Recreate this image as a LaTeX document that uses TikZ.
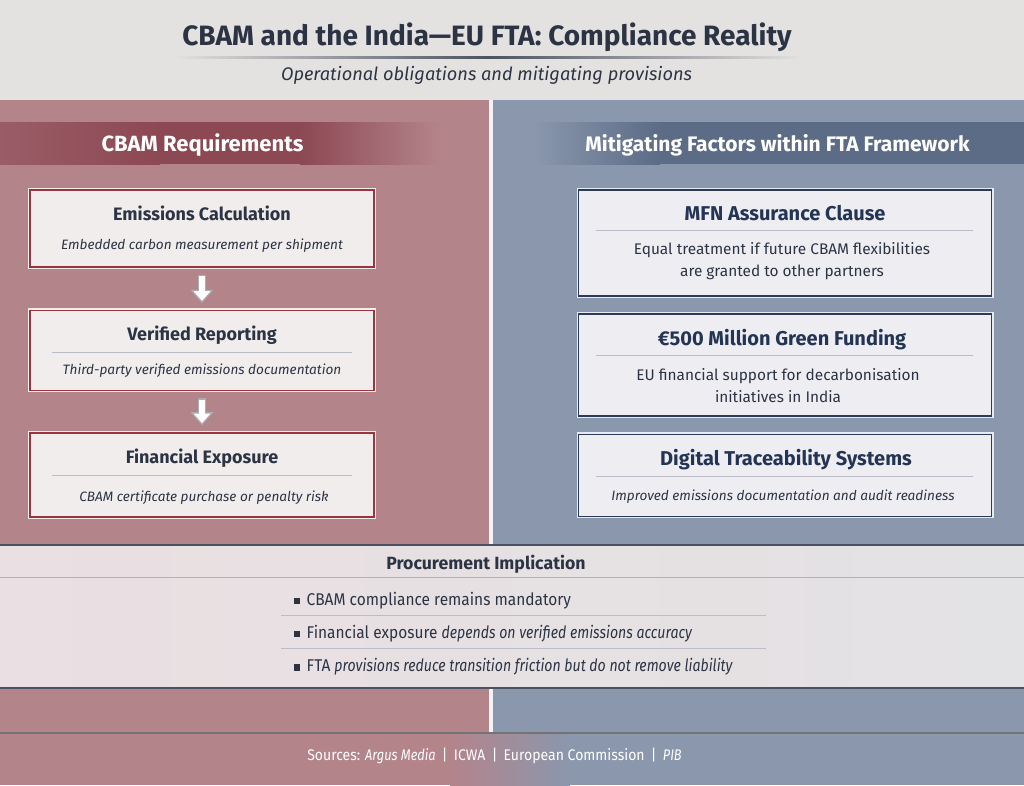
\documentclass[tikz,border=0pt]{standalone}
\usepackage{fontspec}
\setmainfont{Fira Sans}
\newfontfamily\narrowsans[FakeStretch=0.91,ItalicFeatures={FakeStretch=0.83}]{Fira Sans}
\usetikzlibrary{arrows.meta,positioning}
\definecolor{topgray}{HTML}{E4E2E1}
\definecolor{inkdark}{HTML}{2C3444}
\definecolor{panelred}{HTML}{B4848B}
\definecolor{panelblue}{HTML}{8A97AD}
\definecolor{bandred}{HTML}{8C4853}
\definecolor{bandblue}{HTML}{5C6B86}
\definecolor{rimred}{HTML}{9A3540}
\definecolor{rimblue}{HTML}{2B3C5B}
\definecolor{boxfillr}{HTML}{F1EDED}
\definecolor{boxfillb}{HTML}{EEEEF2}
\definecolor{navytext}{HTML}{243455}
\definecolor{rulegray}{HTML}{BABDC7}
\definecolor{procleft}{HTML}{EADFE2}
\definecolor{procright}{HTML}{E3E2E4}
\definecolor{edgedark}{HTML}{4A5162}

\begin{document}
\begin{tikzpicture}[x=1pt,y=-1pt,
    redbox/.style={draw=rimred,line width=1.6pt,fill=boxfillr,
      preaction={draw=white!85!panelred,line width=4pt},minimum width=344pt},
    bluebox/.style={draw=rimblue,line width=1.6pt,fill=boxfillb,
      preaction={draw=white!80!panelblue,line width=4pt},minimum width=413pt},
    boxtitle/.style={anchor=base,inner sep=0pt,font=\fontsize{18}{22}\selectfont\bfseries},
    boxnote/.style={anchor=base,inner sep=0pt,text=inkdark,font=\fontsize{13.6}{17}\selectfont\itshape},
    boxtext/.style={anchor=center,inner sep=0pt,align=center,text=inkdark,font=\fontsize{15.4}{22}\selectfont},
    sepline/.style={draw=rulegray,line width=0.8pt},
    bullet/.style={anchor=base west,inner sep=0pt,text=inkdark,font=\narrowsans\fontsize{17}{20}\selectfont},
    arrowrim/.style={draw=black!32,line width=8.6pt,-{Triangle[length=13pt,width=22pt]},
      shorten <=7pt,shorten >=6.7pt},
    arrowcore/.style={draw=white,line width=6pt,-{Triangle[length=9.6pt,width=16.3pt]},
      shorten <=8.3pt,shorten >=8.8pt}]
  \useasboundingbox (0,0) rectangle (1024,785);
  \fill[topgray] (0,0) rectangle (1024,100);
  \fill[panelred] (0,100) rectangle (489,733);
  \fill[panelblue] (493,100) rectangle (1024,733);
  \fill[white!88!panelblue] (489,100) rectangle (493,733);

  \node[anchor=base,inner sep=0pt,text=inkdark,font=\fontsize{28}{32}\selectfont\bfseries] (title) at (487,45) {CBAM and the India—EU FTA: Compliance Reality};
  \shade[left color=topgray,right color=inkdark!85] (173,56.4) rectangle (488,58.2);
  \shade[left color=inkdark!85,right color=topgray] (488,56.4) rectangle (804,58.2);
  \node[anchor=base,inner sep=0pt,text=inkdark,font=\fontsize{18.2}{22}\selectfont\itshape] (subtitle) at (486.5,80) {Operational obligations and mitigating provisions};

  % column headers
  \shade[left color=bandred!65!panelred,right color=bandred] (0,122) rectangle (160,164);
  \fill[bandred] (160,122) rectangle (300,164);
  \shade[left color=bandred,right color=panelred] (300,122) rectangle (440,164);
  \shade[left color=panelblue,right color=bandblue] (534,122) rectangle (660,164);
  \fill[bandblue] (660,122) rectangle (1024,164);
  \node[anchor=base,inner sep=0pt,text=white,font=\fontsize{22}{24}\selectfont\bfseries] (hdreq) at (202.5,151.5) {CBAM Requirements};
  \node[anchor=base,inner sep=0pt,text=white,font=\fontsize{21}{24}\selectfont\bfseries] (hdmit) at (777.5,151.5) {Mitigating Factors within FTA Framework};

  % requirement chain
  \node[redbox,minimum height=77pt] (calc) at (202,228.7) {};
  \node[redbox,minimum height=80pt] (verif) at (202,350.4) {};
  \node[redbox,minimum height=84pt] (expo) at (202,474.7) {};
  \node[boxtitle,text=inkdark] (calct) at (202,220) {Emissions Calculation};
  \node[boxnote] (calcd) at (202,249.3) {Embedded carbon measurement per shipment};
  \node[boxtitle,text=inkdark] (veritt) at (202,340) {Verified Reporting};
  \draw[sepline] (52,352.3) -- (352,352.3);
  \node[boxnote] (verifd) at (202,374) {Third-party verified emissions documentation};
  \node[boxtitle,text=inkdark] (expot) at (202,463.3) {Financial Exposure};
  \draw[sepline] (52,475.7) -- (352,475.7);
  \node[boxnote] (expod) at (204,501.7) {CBAM certificate purchase or penalty risk};
  \draw[arrowrim] (calc.south) -- (verif.north);
  \draw[arrowcore] (calc.south) -- (verif.north);
  \draw[arrowrim] (verif.south) -- (expo.north);
  \draw[arrowcore] (verif.south) -- (expo.north);

  % mitigating factors
  \node[bluebox,minimum height=106pt] (mfn) at (785,243) {};
  \node[bluebox,minimum height=102pt] (fund) at (785,365) {};
  \node[bluebox,minimum height=82pt] (trace) at (785,475.3) {};
  \node[boxtitle,text=navytext,font=\fontsize{20}{22}\selectfont\bfseries] (mfnt) at (785,220) {MFN Assurance Clause};
  \draw[sepline] (596,230) -- (973,230);
  \node[boxtext] (mfnd) at (782,261) {Equal treatment if future CBAM flexibilities\\are granted to other partners};
  \node[boxtitle,text=navytext,font=\fontsize{20}{22}\selectfont\bfseries] (fundt) at (782,345) {€500 Million Green Funding};
  \draw[sepline] (596,355.7) -- (973,355.7);
  \node[boxtext] (fundd) at (778,386) {EU financial support for decarbonisation\\initiatives in India};
  \node[boxtitle,text=navytext,font=\fontsize{20}{22}\selectfont\bfseries] (tracet) at (786,465) {Digital Traceability Systems};
  \draw[sepline] (596,476) -- (973,476);
  \node[boxnote] (traced) at (783,500.7) {Improved emissions documentation and audit readiness};

  % procurement band
  \shade[left color=procleft,right color=procright] (0,545) rectangle (1024,688);
  \draw[edgedark,line width=1.6pt] (0,545) -- (1024,545);
  \draw[edgedark,line width=2pt] (0,688) -- (1024,688);
  \draw[black!30,line width=1.2pt] (0,577.7) -- (1024,577.7);
  \node[anchor=base,inner sep=0pt,text=inkdark,font=\fontsize{17.7}{21}\selectfont\bfseries] (procure) at (486,569.5) {Procurement Implication};
  \node[bullet] (pt1) at (294,605) {\rule[1pt]{5.5pt}{6.5pt}\hspace{7pt}CBAM compliance remains mandatory};
  \draw[sepline] (281,615) -- (766,615);
  \node[bullet] (pt2) at (294,638.3) {\rule[1pt]{5.5pt}{6.5pt}\hspace{7pt}Financial exposure \textit{depends on verified emissions accuracy}};
  \draw[sepline] (281,648.3) -- (766,648.3);
  \node[bullet] (pt3) at (294,671.7) {\rule[1pt]{5.5pt}{6.5pt}\hspace{7pt}FTA \textit{provisions reduce transition friction but do not remove liability}};

  % sources strip
  \fill[panelred] (0,733) rectangle (450,785);
  \shade[left color=panelred,right color=panelblue] (450,733) rectangle (570,785);
  \fill[panelblue] (570,733) rectangle (1024,785);
  \draw[black!55,line width=1.2pt] (0,733) -- (1024,733);
  \node[anchor=base,inner sep=0pt,text=white,font=\narrowsans\fontsize{15.4}{18}\selectfont] (sources) at (494.5,760) {Sources: \textit{Argus Media} \,|\, ICWA \,|\, European Commission \,|\, \textit{PIB}};
\end{tikzpicture}
\end{document}
